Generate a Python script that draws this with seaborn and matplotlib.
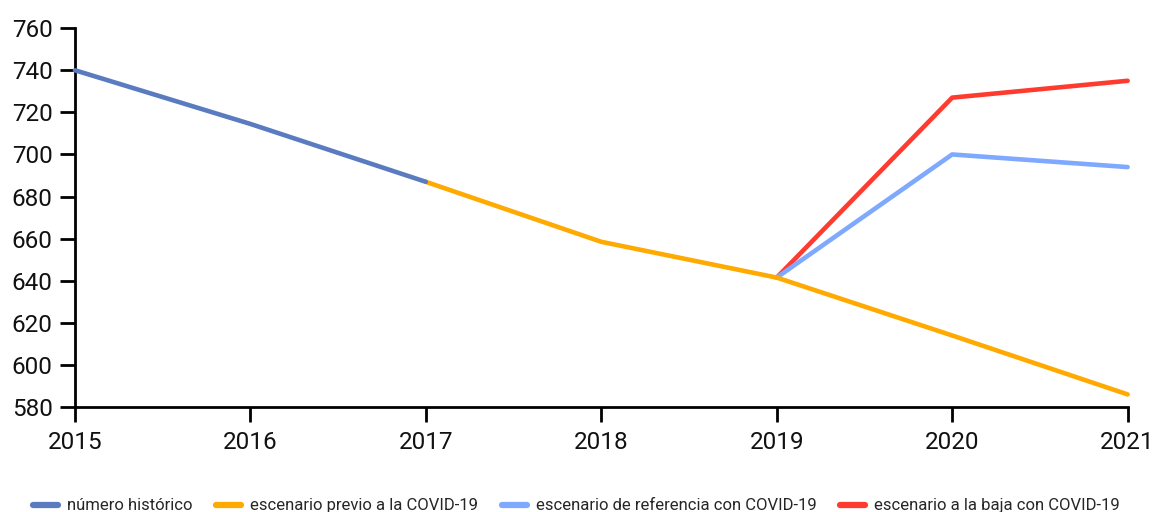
import numpy as np
import pandas as pd
import matplotlib
matplotlib.use("Agg")
import matplotlib.pyplot as plt
import seaborn as sns

# Data
years_hist = [2015, 2016, 2017]
vals_hist = [740, 714.5, 687]
years_prev = [2017, 2018, 2019, 2020, 2021]
vals_prev = [687, 658.5, 641.5, 614, 586]
years_ref = [2019, 2020, 2021]
vals_ref = [641.5, 700, 694]
years_baja = [2019, 2020, 2021]
vals_baja = [641.5, 727, 735]

labels = ["número histórico", "escenario previo a la COVID-19",
          "escenario de referencia con COVID-19", "escenario a la baja con COVID-19"]
colors = ["#5a7bc0", "#ffaa00", "#7ea9ff", "#ff3b30"]
yticks = [580, 600, 620, 640, 660, 680, 700, 720, 740, 760]
xticks = [2015, 2016, 2017, 2018, 2019, 2020, 2021]

frames = []
for lab, ys, vs in zip(labels, [years_hist, years_prev, years_ref, years_baja],
                       [vals_hist, vals_prev, vals_ref, vals_baja]):
    frames.append(pd.DataFrame({"year": ys, "value": vs, "serie": lab}))
df = pd.concat(frames, ignore_index=True)

sns.set_theme(style="ticks")
plt.rcParams['font.family'] = ['Roboto', 'DejaVu Sans']

fig = plt.figure(figsize=(11.53, 5.12), dpi=100)
ax = fig.add_axes([0.065, 0.205, 0.913, 0.740])

# draw order: baja, ref, previo, historico
order = [3, 2, 1, 0]
for i in order:
    sub = df[df["serie"] == labels[i]]
    sns.lineplot(data=sub, x="year", y="value", ax=ax, color=colors[i],
                 linewidth=3.3, label=labels[i], legend=False, sort=False,
                 solid_capstyle="round", clip_on=False, zorder=3 + (3 - i))

ax.set_xlim(2015, 2021)
ax.set_ylim(580, 760)
ax.set_xticks(xticks)
ax.set_xticklabels([str(x) for x in xticks])
ax.set_yticks(yticks)
ax.set_xlabel("")
ax.set_ylabel("")
for s in ["top", "right"]:
    ax.spines[s].set_visible(False)
for s in ["left", "bottom"]:
    ax.spines[s].set_color("black")
    ax.spines[s].set_linewidth(2)
ax.tick_params(axis="both", length=11, width=2, color="black",
               labelsize=17.5, labelcolor="#111111")
ax.tick_params(axis="y", pad=5)
ax.tick_params(axis="x", pad=6)

handles = [plt.Line2D([0], [0], color=c, lw=4.5, solid_capstyle="round") for c in colors]
fig.legend(handles, labels, loc="lower center", bbox_to_anchor=(0.5, -0.032),
           ncol=4, frameon=False, fontsize=12, handlelength=1.5,
           handletextpad=0.55, columnspacing=1.4)

fig.savefig("out.png", dpi=100, facecolor="white")
